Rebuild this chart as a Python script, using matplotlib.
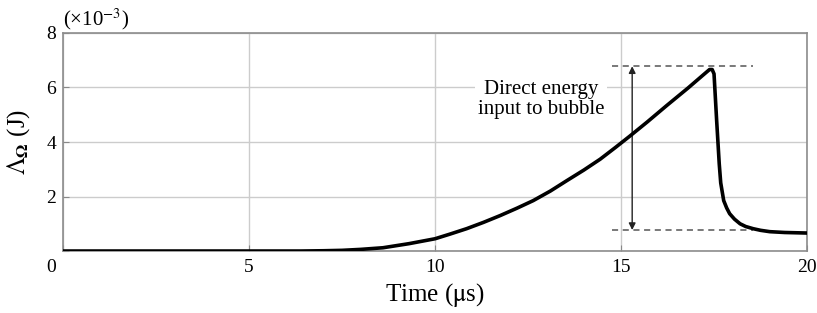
import matplotlib
matplotlib.use("Agg")
import matplotlib.pyplot as plt
import numpy as np

plt.rcParams['font.family'] = ['Liberation Serif', 'DejaVu Serif']
plt.rcParams['mathtext.fontset'] = 'stix'

# energy curve (x in us, y in 1e-3 J)
t = [0, 2, 4, 6, 6.4, 7.0, 7.5, 8.0, 8.6, 9.3, 10.0, 10.4, 10.85, 11.3,
     11.75, 12.2, 12.64, 13.1, 13.54, 14.0, 14.44, 14.85, 15.24, 15.7,
     16.23, 16.8, 17.2, 17.38, 17.45, 17.5, 17.57, 17.64, 17.68, 17.76,
     17.84, 17.92, 18.05, 18.2, 18.35, 18.55, 18.75, 19.0, 19.4, 20.0]
E = [0, 0, 0, 0, 0.0, 0.01, 0.025, 0.06, 0.12, 0.27, 0.45, 0.62, 0.82, 1.05,
     1.3, 1.57, 1.85, 2.2, 2.58, 2.97, 3.37, 3.8, 4.22, 4.73,
     5.34, 5.98, 6.45, 6.66, 6.66, 6.5, 4.8, 3.2, 2.5, 1.85,
     1.58, 1.37, 1.17, 1.0, 0.9, 0.82, 0.76, 0.71, 0.68, 0.66]

E_top = 6.78
E_bot = 0.77
dash_x = [14.75, 18.55]
arrow_x = 15.3

xticks = [0, 5, 10, 15, 20]
xlabels = ['', '5', '10', '15', '20']
yticks = [0, 2, 4, 6, 8]
ylabels = ['', '2', '4', '6', '8']

fig = plt.figure(figsize=(8.17, 3.13), dpi=100)
ax = fig.add_axes([0.0771, 0.198, 0.9107, 0.6966])

ax.plot(t, E, color='black', lw=2.6, solid_joinstyle='round', zorder=5)

ax.plot(dash_x, [E_top, E_top], ls=(0, (4, 3)), color='#555555', lw=1.1, zorder=4)
ax.plot(dash_x, [E_bot, E_bot], ls=(0, (4, 3)), color='#555555', lw=1.1, zorder=4)
ax.annotate('', xy=(arrow_x, E_top), xytext=(arrow_x, E_bot),
            arrowprops=dict(arrowstyle='<|-|>', color='#222222', lw=1.0,
                            mutation_scale=10, shrinkA=0, shrinkB=0), zorder=4)

ax.text(12.85, 5.55, 'Direct energy\ninput to bubble', ha='center', va='center',
        fontsize=15, linespacing=1.1,
        bbox=dict(facecolor='white', edgecolor='none', pad=2), zorder=3)

ax.set_xlim(0, 20)
ax.set_ylim(0, 8)
ax.set_xticks(xticks)
ax.set_xticklabels(xlabels)
ax.set_yticks(yticks)
ax.set_yticklabels(ylabels)
ax.tick_params(direction='in', length=4, color='#888888', labelsize=14)
ax.tick_params(axis='x', pad=6)
ax.tick_params(axis='y', pad=5)
ax.grid(True, color='#cccccc', lw=1.0, zorder=0)
ax.set_axisbelow(True)
for s in ax.spines.values():
    s.set_color('#8c8c8c')
    s.set_linewidth(1.2)

# shared zero in the corner
ax.text(-0.010, -0.035, '0', transform=ax.transAxes, ha='right', va='top', fontsize=14)
ax.text(0.0, 1.005, r'(×10$^{-3}$)', transform=ax.transAxes, ha='left', va='bottom', fontsize=15)

ax.set_xlabel(r'Time ($\mathrm{\mu}$s)', fontsize=18, labelpad=3)
ax.set_ylabel(r'$\mathit{\Lambda}_{\mathbf{\Omega}}$ (J)', fontsize=18, labelpad=10)

fig.savefig('out.png', dpi=100)
